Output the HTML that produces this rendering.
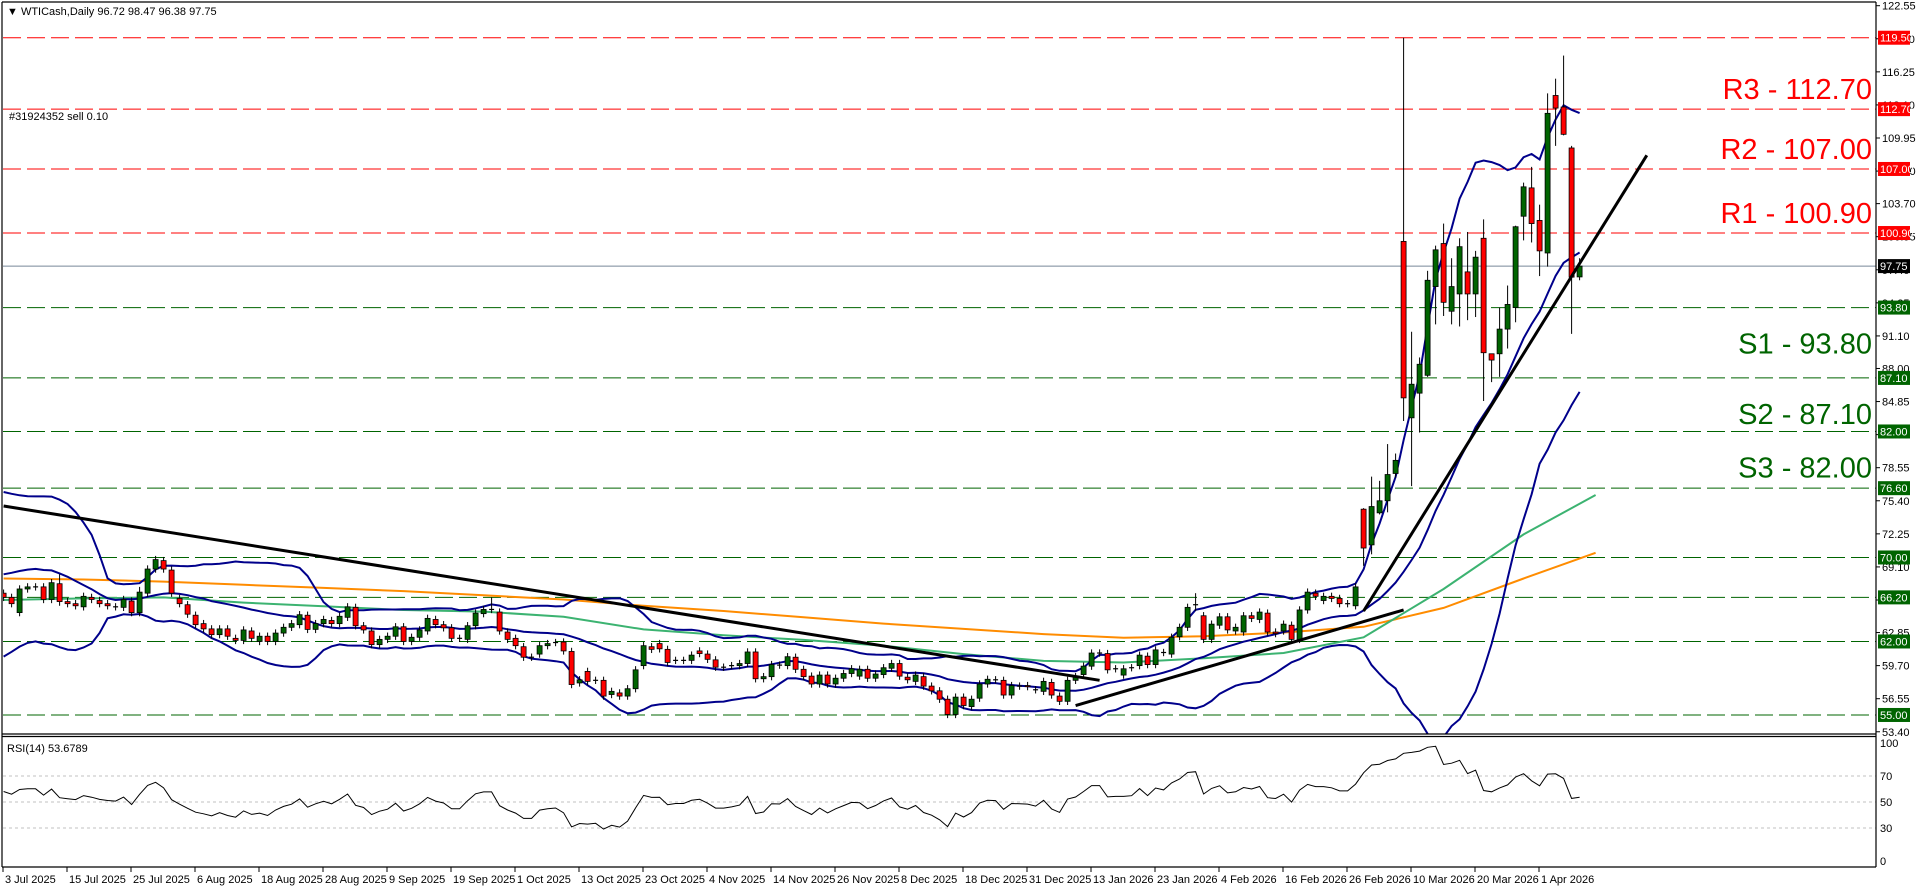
<!DOCTYPE html>
<html><head><meta charset="utf-8"><title>WTICash Daily</title>
<style>
html,body{margin:0;padding:0;background:#fff;}
svg{display:block;font-family:"Liberation Sans",Arial,sans-serif;}
</style></head>
<body>
<svg id="chart" width="1916" height="888" viewBox="0 0 1916 888" xmlns="http://www.w3.org/2000/svg">
  <rect x="0" y="0" width="1916" height="888" fill="#ffffff"/>
  <defs>
    <clipPath id="mainClip"><rect x="3" y="3" width="1873" height="731"/></clipPath>
    <clipPath id="rsiClip"><rect x="3" y="737" width="1873" height="130"/></clipPath>
  </defs>
  <g id="grid"></g>
  <g id="indicators" clip-path="url(#mainClip)"></g>
  <g id="candles" clip-path="url(#mainClip)"></g>
  <g id="trendlines" clip-path="url(#mainClip)"></g>
  <g id="rsi"></g>
  <g id="axes"></g>
  <g id="labels"></g>
  <text x="7" y="15" font-size="11" fill="#000">▼ WTICash,Daily  96.72 98.47 96.38 97.75</text>
  <text x="9" y="120" font-size="11" fill="#000">#31924352 sell 0.10</text>
  <text x="7" y="752" font-size="11" fill="#000">RSI(14) 53.6789</text>
</svg>
<script>
// ---- data ----
const historyCloses = [62.0,62.8,63.5,64.5,66.0,68.0,68.5,71.5,72.0,73.5,74.0,73.8,74.9,73.5,68.5,64.5,65.0,65.3,65.5,66.5];
const opens = [66.6,66.2,64.75,67.0,67.2,67.2,66.0,67.5,65.8,65.6,65.3,66.2,65.9,65.6,65.3,65.25,65.85,64.75,66.6,68.9,
69.7,68.8,66.1,65.5,64.5,63.7,63.2,62.65,63.2,62.3,62.1,63.0,62.0,62.5,62.0,62.8,63.35,63.6,64.5,63.15,
63.7,64.0,63.7,64.3,65.25,63.5,63.0,61.7,62.2,62.5,63.4,62.0,62.4,63.0,64.1,63.6,63.3,62.3,62.2,63.5,
64.65,65.05,64.8,62.9,62.3,61.5,60.5,60.8,61.6,61.9,61.95,61.05,58.05,59.15,58.3,58.3,56.95,57.1,56.8,57.5,
59.7,61.5,61.8,61.25,60.2,60.2,60.2,61.1,60.8,60.25,59.55,59.7,59.7,59.9,61.0,58.45,58.65,59.75,59.7,60.5,
59.35,58.7,57.95,58.8,57.95,58.5,58.95,58.7,59.35,58.5,58.85,59.45,59.9,58.6,58.2,58.65,57.75,57.3,56.5,55.05,
56.7,55.8,56.6,57.95,58.35,58.3,56.9,57.75,57.8,57.4,57.25,58.1,56.8,56.3,58.3,58.85,59.65,60.9,60.85,59.4,
58.8,59.5,59.7,60.6,59.8,60.95,60.8,62.45,63.35,65.5,64.45,62.2,63.55,64.35,63.0,62.9,64.45,64.1,64.7,62.9,
63.0,63.55,62.2,65.0,66.6,65.9,66.3,66.1,65.6,65.4,74.6,71.2,74.25,75.4,78.0,100.1,83.3,85.65,87.35,95.8,
99.9,93.45,95.1,97.2,95.1,100.4,89.4,89.4,91.75,93.8,102.5,105.2,102.1,99.0,114.0,112.9,109.0,96.72];
const closes = [66.2,65.6,67.0,67.2,67.2,66.0,67.6,65.8,65.6,65.4,66.3,66.0,65.6,65.4,65.3,66.0,64.75,66.7,68.9,69.8,
68.9,66.6,65.6,64.6,63.6,63.2,62.65,63.2,62.5,62.1,63.1,62.3,62.5,62.0,62.8,63.35,63.7,64.55,63.15,63.7,
64.1,63.7,64.4,65.3,63.5,63.1,61.7,62.2,62.5,63.4,62.0,62.4,63.1,64.2,63.6,63.3,62.3,62.3,63.5,64.7,
65.05,65.05,63.0,62.2,61.6,60.5,60.5,61.6,61.8,61.9,61.1,57.9,58.35,58.2,58.3,56.8,57.25,56.8,57.5,59.3,
61.6,61.25,61.3,60.0,60.2,60.2,60.7,60.85,60.3,59.55,59.55,59.7,59.9,61.0,58.45,58.65,59.8,59.75,60.55,59.35,
58.65,57.95,58.8,57.95,58.5,58.95,59.4,59.35,58.5,58.9,59.5,59.9,58.7,58.35,58.8,57.75,57.3,56.5,55.05,56.7,
55.9,56.5,57.95,58.4,58.35,56.9,57.8,57.75,57.7,57.4,58.2,56.9,56.3,58.3,58.65,59.65,60.9,60.9,59.3,59.4,
59.4,59.5,60.7,59.8,61.2,60.95,62.4,63.35,65.25,65.5,62.2,63.65,64.35,63.1,63.35,64.45,64.2,64.8,62.9,62.75,
63.65,62.2,65.0,66.7,66.3,66.3,66.1,65.6,65.6,67.2,70.9,74.85,75.4,77.9,79.25,85.2,86.5,88.4,96.4,99.3,
94.3,95.8,99.6,95.1,98.6,89.5,88.8,91.75,94.1,101.5,105.3,101.8,99.2,112.3,112.8,110.3,96.7,97.75];
const wickBars  = [7,17,61,149,170,171,172,173,174,175,176,177,178,179,180,181,182,183,184,185,186,187,188,189,190,191,192,193,194,195,196,197];
const wickHighs = [68.4,67.2,66.2,66.6,74.7,77.7,77.3,80.8,79.9,119.5,91.5,89.05,97.3,99.7,101.8,98.5,100.4,101.0,99.2,102.2,89.3,93.8,95.9,101.6,105.7,107.2,103.6,114.2,115.6,117.8,109.2,98.5];
const wickLows  = [65.4,64.4,64.7,64.9,69.2,70.3,74.1,74.3,77.6,83.0,76.8,81.9,87.2,92.2,93.0,92.2,92.0,92.6,92.9,84.9,86.7,87.2,89.9,92.4,100.2,100.0,96.8,97.7,109.2,110.2,91.3,96.4];
const orangeBars = [0,10,20,30,40,50,60,70,80,90,100,110,120,130,140,150,160,170,180,190,199];
const orangeMA   = [68.0,67.9,67.7,67.4,67.1,66.8,66.4,66.0,65.4,64.9,64.3,63.7,63.2,62.7,62.35,62.5,62.85,63.4,65.2,68.0,70.45];
const greenBars  = [0,10,20,30,40,50,60,70,80,90,100,110,120,130,140,150,160,170,180,190,199];
const greenMA    = [65.95,66.1,66.2,65.7,65.35,65.0,64.85,64.35,63.15,62.6,62.15,61.6,60.8,60.15,60.0,60.4,60.9,62.4,67.0,72.2,75.95];
const resistanceLevels = [119.5,112.7,107.0,100.9];
const supportLevels = [93.8,87.1,82.0,76.6,70.0,66.2,62.0,55.0];
const levelTexts = ["R3 - 112.70","R2 - 107.00","R1 - 100.90","S1 - 93.80","S2 - 87.10","S3 - 82.00"];
const levelTextPrices = [112.7,107.0,100.9,93.8,87.1,82.0];
const priceTicks = ["122.55","119.40","116.25","113.10","109.95","106.80","103.70","100.55","97.40","94.25","91.10","88.00","84.85","81.70","78.55","75.40","72.25","69.10","65.95","62.85","59.70","56.55","53.40"];
const dateLabels = ["3 Jul 2025","15 Jul 2025","25 Jul 2025","6 Aug 2025","18 Aug 2025","28 Aug 2025","9 Sep 2025","19 Sep 2025","1 Oct 2025","13 Oct 2025","23 Oct 2025","4 Nov 2025","14 Nov 2025","26 Nov 2025","8 Dec 2025","18 Dec 2025","31 Dec 2025","13 Jan 2026","23 Jan 2026","4 Feb 2026","16 Feb 2026","26 Feb 2026","10 Mar 2026","20 Mar 2026","1 Apr 2026"];
const rsiTicks = [100,70,50,30,0];
// trendlines: [bar1, price1, bar2, price2]
const trend1 = [0,74.9,137,58.3];
const trend2 = [134,55.9,175,65.0];
const trend3 = [170,64.9,205.4,108.3];
const lastPrice = 97.75;

// ---- scales ----
const NS='http://www.w3.org/2000/svg';
const X0=3.6, STEP=8, AXISX=1876;
const PMAX=122.55, PTOP=5.7, PPX=10.5;
function xOf(i){return X0+i*STEP;}
function yOf(p){return PTOP+(PMAX-p)*PPX;}
const RTOP=737, RBOT=867;
function yRsi(v){return RBOT-(v/100)*(RBOT-RTOP);}
function mk(tag,attrs,parent){const e=document.createElementNS(NS,tag);for(const k in attrs)e.setAttribute(k,attrs[k]);parent.appendChild(e);return e;}

const gGrid=document.getElementById('grid');
const gInd=document.getElementById('indicators');
const gC=document.getElementById('candles');
const gT=document.getElementById('trendlines');
const gR=document.getElementById('rsi');
const gA=document.getElementById('axes');
const gL=document.getElementById('labels');

// level lines
resistanceLevels.forEach(p=>{
  const l=mk('line',{x1:3,x2:AXISX,y1:yOf(p),y2:yOf(p),stroke:'#ff0000','stroke-width':1,'stroke-dasharray':'18 6'},gGrid);
  
  
});
supportLevels.forEach(p=>{
  const l=mk('line',{x1:3,x2:AXISX,y1:yOf(p),y2:yOf(p),stroke:'#006400','stroke-width':1,'stroke-dasharray':'18 6'},gGrid);
  
  
});
{
  const l=mk('line',{x1:3,x2:AXISX,y1:yOf(lastPrice),y2:yOf(lastPrice),stroke:'#778899','stroke-width':1},gGrid);
  
  
}

// indicators: Bollinger from closes
const all=historyCloses.concat(closes);
const H=historyCloses.length;
let up=[],mid=[],lo=[];
for(let i=0;i<closes.length;i++){
  const k=i+H; let s=0; for(let j=k-19;j<=k;j++) s+=all[j]; const m=s/20;
  let v=0; for(let j=k-19;j<=k;j++) v+=(all[j]-m)*(all[j]-m); const sd=Math.sqrt(v/20);
  mid.push(m); up.push(m+2*sd); lo.push(m-2*sd);
}
function poly(vals,bars,color,w,name){
  const pts=vals.map((v,i)=>xOf(bars?bars[i]:i).toFixed(1)+','+yOf(v).toFixed(1)).join(' ');
  const p=mk('polyline',{points:pts,fill:'none',stroke:color,'stroke-width':w},gInd);
  
  
}
poly(orangeMA,orangeBars,'#ff8c00',2,'ma-orange');
poly(greenMA,greenBars,'#3cb371',2,'ma-green');
poly(up,null,'#00008b',2,'bollinger-upper');
poly(mid,null,'#00008b',2,'bollinger-middle');
poly(lo,null,'#00008b',2,'bollinger-lower');

// candles
for(let i=0;i<closes.length;i++){
  const o=opens[i],c=closes[i];
  let hi=Math.max(o,c)+0.35, lw=Math.min(o,c)-0.35;
  const wi=wickBars.indexOf(i); if(wi>=0){hi=wickHighs[wi];lw=wickLows[wi];}
  const x=xOf(i);
  const w=mk('line',{x1:x,x2:x,y1:yOf(hi),y2:yOf(lw),stroke:'#000','stroke-width':1},gC);
  
  
  const top=yOf(Math.max(o,c)), bot=yOf(Math.min(o,c));
  if(Math.abs(bot-top)<1){
    const d=mk('line',{x1:x-2.5,x2:x+2.5,y1:top,y2:top,stroke:'#000','stroke-width':1.2},gC);
    
    
  } else {
    const r=mk('rect',{x:x-2.5,y:top,width:5,height:bot-top,fill:c>=o?'#006400':'#ff0000',stroke:'#000','stroke-width':0.8},gC);
    
    
  }
}

// trendlines
[trend1,trend2,trend3].forEach((t,k)=>{
  const l=mk('line',{x1:xOf(t[0]),y1:yOf(t[1]),x2:xOf(t[2]),y2:yOf(t[3]),stroke:'#000','stroke-width':3},gT);
  
  
});

// RSI
let rsi=[]; {
  let ag=0,al=0;
  for(let j=1;j<=14;j++){const d=all[j]-all[j-1]; if(d>0)ag+=d; else al-=d;}
  ag/=14; al/=14;
  for(let j=15;j<all.length;j++){
    const d=all[j]-all[j-1];
    ag=(ag*13+(d>0?d:0))/14; al=(al*13+(d<0?-d:0))/14;
    if(j>=H) rsi.push(al===0?100:100-100/(1+ag/al));
  }
}
[70,50,30].forEach(v=>{
  const l=mk('line',{x1:3,x2:AXISX,y1:yRsi(v),y2:yRsi(v),stroke:'#c0c0c0','stroke-width':1,'stroke-dasharray':'3 3'},gR);
  
  
});
{
  const pts=rsi.map((v,i)=>xOf(i).toFixed(1)+','+yRsi(v).toFixed(1)).join(' ');
  const p=mk('polyline',{points:pts,fill:'none',stroke:'#000','stroke-width':1,'clip-path':'url(#rsiClip)'},gR);
  
  
}

// frame
[[2,2,AXISX,2],[2,2,2,867],[AXISX,2,AXISX,867],[2,734,AXISX,734],[2,736.5,AXISX,736.5],[2,867,AXISX,867]].forEach(s=>{
  const l=mk('line',{x1:s[0],y1:s[1],x2:s[2],y2:s[3],stroke:'#000','stroke-width':1.2},gA);
  
  
});
// price ticks
priceTicks.forEach(t=>{
  const y=yOf(parseFloat(t));
  const l=mk('line',{x1:AXISX,x2:AXISX+4,y1:y,y2:y,stroke:'#000'},gA);
  
  
  const tx=mk('text',{x:AXISX+6,y:y+4,'font-size':11,fill:'#000'},gA);
  tx.textContent=t;
  
  
});
rsiTicks.forEach(v=>{
  const tx=mk('text',{x:AXISX+4,y:yRsi(v)+(v===100?10:v===0?-2:4),'font-size':11,fill:'#000'},gA);
  tx.textContent=String(v);
  
  
});
dateLabels.forEach((d,k)=>{
  const x=xOf(k*8)-0.6;
  const l=mk('line',{x1:x,x2:x,y1:867,y2:872,stroke:'#000'},gA);
  
  
  const tx=mk('text',{x:x+2,y:883,'font-size':11,fill:'#000'},gA);
  tx.textContent=d;
  
  
});
// price boxes
function box(p,bg,name){
  const y=yOf(p);
  const r=mk('rect',{x:AXISX+2,y:y-7,width:32,height:14,fill:bg},gA);
  
  
  const tx=mk('text',{x:AXISX+4,y:y+4,'font-size':11,fill:'#fff'},gA);
  tx.textContent=p.toFixed(2);
  
  
}
resistanceLevels.forEach(p=>box(p,'#ff0000','resistance-price'));
supportLevels.forEach(p=>box(p,'#006400','support-price'));
box(lastPrice,'#000000','last-price');

// big level annotations
levelTexts.forEach((t,k)=>{
  const p=levelTextPrices[k];
  const isR=t[0]==='R';
  const y=isR?yOf(p)-10:yOf(p)+46;
  const tx=mk('text',{x:1872,y:y,'font-size':29,'text-anchor':'end',fill:isR?'#ff0000':'#006400'},gL);
  tx.textContent=t;
  
  
});
</script>
</body></html>
